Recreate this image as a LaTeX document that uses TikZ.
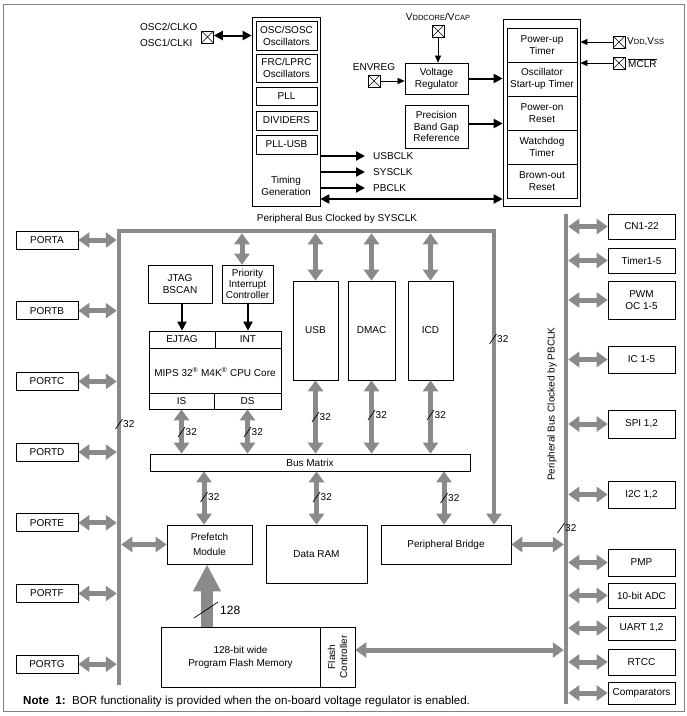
\documentclass[tikz,border=0pt]{standalone}
\usepackage{fontspec}
\setmainfont{Liberation Sans}
\usetikzlibrary{arrows.meta}
\definecolor{busgray}{RGB}{138,138,138}
\definecolor{framegray}{RGB}{128,128,128}
\newcommand\bwidth[4]{\draw[slashln] (#2-3.5,#3+5) -- (#2+3.5,#3-5); \node[lbl, anchor=west] (#1) at (#2+4,#3) {#4};}
\newcommand\smc[1]{{\fontsize{7.5}{9}\selectfont #1}}
\begin{document}
\begin{tikzpicture}[x=1pt,y=-1pt, font=\fontsize{10}{12}\selectfont,
  box/.style={draw, line width=0.7pt, inner sep=0pt, align=center},
  lbl/.style={inner sep=0pt, align=center},
  xpin/.style={draw, line width=0.6pt, minimum width=12pt, minimum height=12pt, inner sep=0pt,
    path picture={\draw[line width=0.6pt] (path picture bounding box.north west) -- (path picture bounding box.south east)
      (path picture bounding box.south west) -- (path picture bounding box.north east);}},
  gbus/.style={draw=busgray, line width=4.5pt, line join=miter},
  garrow/.style={draw=busgray, line width=5pt, {Triangle[width=15pt,length=11pt]}-{Triangle[width=15pt,length=11pt]}},
  bigarrow/.style={draw=busgray, line width=12pt, -{Triangle[width=26pt,length=27pt]}},
  barrow/.style={draw=black, line width=2pt, -{Triangle[width=9pt,length=9pt]}},
  bdarrow/.style={draw=black, line width=2pt, {Triangle[width=9pt,length=9pt]}-{Triangle[width=9pt,length=9pt]}},
  tarrow/.style={draw=black, line width=0.6pt, -{Triangle[width=6pt,length=7pt]}},
  slashln/.style={draw=black, line width=0.7pt},
  outerframe/.style={draw=framegray, line width=0.8pt}]
\useasboundingbox (0,0) rectangle (687,716);
\draw[outerframe] (3,4) rectangle (684,711);

% ---------- clock block
\node[box, minimum width=68pt, minimum height=189pt] (clk) at (286,111.5) {};
\node[box, minimum width=61pt, minimum height=29pt] (osc) at (286.5,35.5) {OSC/SOSC\\Oscillators};
\node[box, minimum width=61pt, minimum height=28pt] (frc) at (286.5,68) {FRC/LPRC\\Oscillators};
\node[box, minimum width=61pt, minimum height=18pt] (pll) at (286.5,96) {PLL};
\node[box, minimum width=61pt, minimum height=19pt] (div) at (286.5,120.5) {DIVIDERS};
\node[box, minimum width=61pt, minimum height=19pt] (pllusb) at (286.5,144.5) {PLL-USB};
\node[lbl] (timing) at (286,186) {Timing\\Generation};

\node[lbl, anchor=west] (osc2) at (140,27) {OSC2/CLKO};
\node[lbl, anchor=west] (osc1) at (140,43) {OSC1/CLKI};
\node[xpin] (oscpin) at (207.5,37) {};
\draw[bdarrow] (oscpin.east |- osc) -- (clk.west |- osc);

\node[lbl, anchor=west] (usbclk) at (373,156) {USBCLK};
\node[lbl, anchor=west] (sysclk) at (373,172) {SYSCLK};
\node[lbl, anchor=west] (pbclk) at (373,188) {PBCLK};
\draw[barrow] (clk.east |- usbclk.west) -- ([xshift=-8pt]usbclk.west);
\draw[barrow] (clk.east |- sysclk.west) -- ([xshift=-8pt]sysclk.west);
\draw[barrow] (clk.east |- pbclk.west) -- ([xshift=-8pt]pbclk.west);

% ---------- power block
\node[box, minimum width=77pt, minimum height=187pt] (pwr) at (541.5,112.5) {};
\node[box, minimum width=70pt, minimum height=34pt] (put) at (542,45) {Power-up\\Timer};
\node[box, minimum width=70pt, minimum height=34pt] (ost) at (542,79) {Oscillator\\Start-up Timer};
\node[box, minimum width=70pt, minimum height=34pt] (por) at (542,113) {Power-on\\Reset};
\node[box, minimum width=70pt, minimum height=34pt] (wdt) at (542,147) {Watchdog\\Timer};
\node[box, minimum width=70pt, minimum height=34pt] (bor) at (542,181) {Brown-out\\Reset};

\coordinate (rstline) at (0,199);
\draw[bdarrow] (clk.east |- rstline) -- (pwr.west |- rstline);

\node[lbl] (vcaplbl) at (438,17) {V\smc{DDCORE}/V\smc{CAP}};
\node[xpin] (vcappin) at (438,31) {};
\node[box, minimum width=63pt, minimum height=31pt] (vreg) at (436.5,78.5) {Voltage\\Regulator};
\draw[tarrow] (vcappin.south) -- (vcappin.south |- vreg.north);
\node[lbl] (envlbl) at (374,67) {ENVREG};
\node[xpin] (envpin) at (374,81) {};
\draw[tarrow] (envpin.east) -- (vreg.west |- envpin.east);
\draw[barrow] (vreg.east) -- (pwr.west |- vreg.east);
\node[box, minimum width=63pt, minimum height=43pt, font=\fontsize{10}{11.5}\selectfont] (bg) at (436.5,126.5) {Precision\\Band Gap\\Reference};
\coordinate (bgout) at ([yshift=3pt]bg.east);
\draw[barrow] (bgout) -- (pwr.west |- bgout);

\node[xpin] (vddpin) at (619,42) {};
\node[lbl, anchor=west] (vddlbl) at (627,42) {V\smc{DD},V\smc{SS}};
\draw[tarrow] (vddpin.west) -- (pwr.east |- vddpin.west);
\node[xpin] (mclrpin) at (619,63) {};
\node[lbl, anchor=west] (mclrlbl) at (628,63) {$\overline{\mbox{MCLR}}$};
\draw[tarrow] (mclrpin.west) -- (pwr.east |- mclrpin.west);

% ---------- main blocks
\node[lbl] (systitle) at (337,219) {Peripheral Bus Clocked by SYSCLK};
\coordinate (sysTL) at (119,231);
\coordinate (sysBL) at (119,685);
\coordinate (sysTR) at (494,231);
\coordinate (pbT) at (566,214);
\coordinate (pbB) at (566,704);

\node[box, minimum width=64pt, minimum height=38pt] (jtag) at (180,284) {JTAG\\BSCAN};
\node[box, minimum width=51pt, minimum height=38pt, font=\fontsize{10}{11}\selectfont] (pic) at (247.5,284) {Priority\\Interrupt\\Controller};
\node[box, minimum width=132pt, minimum height=78pt] (cpu) at (215,370) {};
\node[box, minimum width=66pt, minimum height=17pt] (ejtag) at (182,339.5) {EJTAG};
\node[box, minimum width=66pt, minimum height=17pt] (int) at (248,339.5) {INT};
\node[box, minimum width=65pt, minimum height=16pt] (is) at (181.5,401) {IS};
\node[box, minimum width=67pt, minimum height=16pt] (ds) at (247.5,401) {DS};
\node[lbl] (mips) at (215,372) {MIPS 32\textsuperscript{\textregistered} M4K\textsuperscript{\textregistered} CPU Core};
\draw[barrow] (ejtag.north |- jtag.south) -- (ejtag.north);
\draw[barrow] (int.north |- pic.south) -- (int.north);

\node[box, minimum width=45pt, minimum height=99pt] (usb) at (315.5,330.5) {USB};
\node[box, minimum width=47pt, minimum height=99pt] (dmac) at (371.5,330.5) {DMAC};
\node[box, minimum width=45pt, minimum height=99pt] (icd) at (430.5,330.5) {ICD};

\node[box, minimum width=320pt, minimum height=17pt] (bm) at (310,462.5) {Bus Matrix};
\node[box, minimum width=85pt, minimum height=39pt, font=\fontsize{10}{15}\selectfont] (pf) at (209.5,544.5) {Prefetch\\Module};
\node[box, minimum width=101pt, minimum height=58pt] (ram) at (316.5,554) {Data RAM};
\node[box, minimum width=130pt, minimum height=39pt] (pb) at (446,544.5) {Peripheral Bridge};

\node[box, minimum width=159pt, minimum height=60pt, font=\fontsize{10}{13}\selectfont] (pfm) at (240.5,657) {128-bit wide\\Program Flash Memory};
\node[box, minimum width=35pt, minimum height=60pt] (fc) at (337.5,657) {};
\node[lbl, rotate=90] (fclbl) at (fc.center) {Flash\\Controller};

% buses
\draw[gbus, -{Triangle[width=15pt,length=11pt]}] (sysBL) -- (sysTL) -- (sysTR) -- (sysTR |- pb.north);
\draw[gbus] (pbT) -- (pbB);
\node[lbl, rotate=90] (pbtitle) at (552,404) {Peripheral Bus Clocked by PBCLK};

% ports
\foreach \n/\t [count=\i from 0] in {pA/PORTA,pB/PORTB,pC/PORTC,pD/PORTD,pE/PORTE,pF/PORTF,pG/PORTG}{
  \node[box, minimum width=62pt, minimum height=18pt] (\n) at (47,240+70.7*\i) {\t};
  \draw[garrow, shorten >=2.25pt] (\n.east) -- (\n.east -| sysTL);
}

% peripherals
\node[box, minimum width=67pt, minimum height=25pt] (cn) at (641.5,226.5) {CN1-22};
\node[box, minimum width=67pt, minimum height=25pt] (tmr) at (641.5,260.5) {Timer1-5};
\node[box, minimum width=67pt, minimum height=38pt] (pwm) at (641.5,300) {PWM\\OC 1-5};
\node[box, minimum width=67pt, minimum height=27pt] (ic) at (641.5,359.5) {IC 1-5};
\node[box, minimum width=67pt, minimum height=28pt] (spi) at (641.5,424) {SPI 1,2};
\node[box, minimum width=67pt, minimum height=27pt] (i2c) at (641.5,494.5) {I2C 1,2};
\node[box, minimum width=67pt, minimum height=27pt] (pmp) at (641.5,562.5) {PMP};
\node[box, minimum width=67pt, minimum height=25pt] (adc) at (641.5,595.5) {10-bit ADC};
\node[box, minimum width=67pt, minimum height=24pt] (uart) at (641.5,628) {UART 1,2};
\node[box, minimum width=67pt, minimum height=26pt] (rtcc) at (641.5,662) {RTCC};
\node[box, minimum width=67pt, minimum height=22pt] (cmp) at (641.5,693) {Comparators};
\foreach \n in {cn,tmr,pwm,ic,spi,i2c,pmp,adc,uart,rtcc,cmp}{
  \draw[garrow, shorten <=2.25pt] (\n.west -| pbT) -- (\n.west);
}

% gray connectors
\draw[garrow, shorten >=2.25pt] ([xshift=-5.5pt]pic.north) -- ([xshift=-5.5pt]pic.north |- sysTL);
\draw[garrow, shorten >=2.25pt] (usb.north) -- (usb.north |- sysTL);
\draw[garrow, shorten >=2.25pt] (dmac.north) -- (dmac.north |- sysTL);
\draw[garrow, shorten >=2.25pt] (icd.north) -- (icd.north |- sysTL);
\draw[garrow] (is.south) -- (is.south |- bm.north);
\draw[garrow] (ds.south) -- (ds.south |- bm.north);
\draw[garrow] (usb.south) -- (usb.south |- bm.north);
\draw[garrow] (dmac.south) -- (dmac.south |- bm.north);
\draw[garrow] (icd.south) -- (icd.south |- bm.north);
\draw[garrow] ([xshift=-5.5pt]pf.north |- bm.south) -- ([xshift=-5.5pt]pf.north);
\draw[garrow] (ram.north |- bm.south) -- (ram.north);
\draw[garrow] ([xshift=-2pt]pb.north |- bm.south) -- ([xshift=-2pt]pb.north);
\draw[garrow, shorten >=2.25pt] (pf.west) -- (pf.west -| sysTL);
\draw[garrow, shorten >=2.25pt] (pb.east) -- (pb.east -| pbT);
\coordinate (fcout) at ([yshift=7pt]fc.east);
\draw[garrow, shorten >=2.25pt] (fcout) -- (fcout -| pbT);
\draw[bigarrow] ([xshift=-2.5pt]pf.south |- pfm.north) -- ([xshift=-2.5pt]pf.south);

% bus widths
\bwidth{w1}{119}{424}{32}
\bwidth{w2}{181.5}{432}{32}
\bwidth{w3}{247.5}{432}{32}
\bwidth{w4}{315.5}{417}{32}
\bwidth{w5}{371.5}{415}{32}
\bwidth{w6}{430.5}{415}{32}
\bwidth{w7}{493}{339}{32}
\bwidth{w8}{204}{497}{32}
\bwidth{w9}{316.5}{497}{32}
\bwidth{w10}{444}{498}{32}
\bwidth{w11}{561}{528}{32}
\draw[slashln] (194,618) -- (218,602);
\node[lbl, anchor=west, font=\fontsize{12}{14}\selectfont] (w128) at (220,610) {128};

% note
\node[lbl, anchor=west, font=\fontsize{11.6}{13}\selectfont] (note) at (23,701) {\textbf{Note\ \ 1:}\ \ BOR functionality is provided when the on-board voltage regulator is enabled.};
\end{tikzpicture}
\end{document}
